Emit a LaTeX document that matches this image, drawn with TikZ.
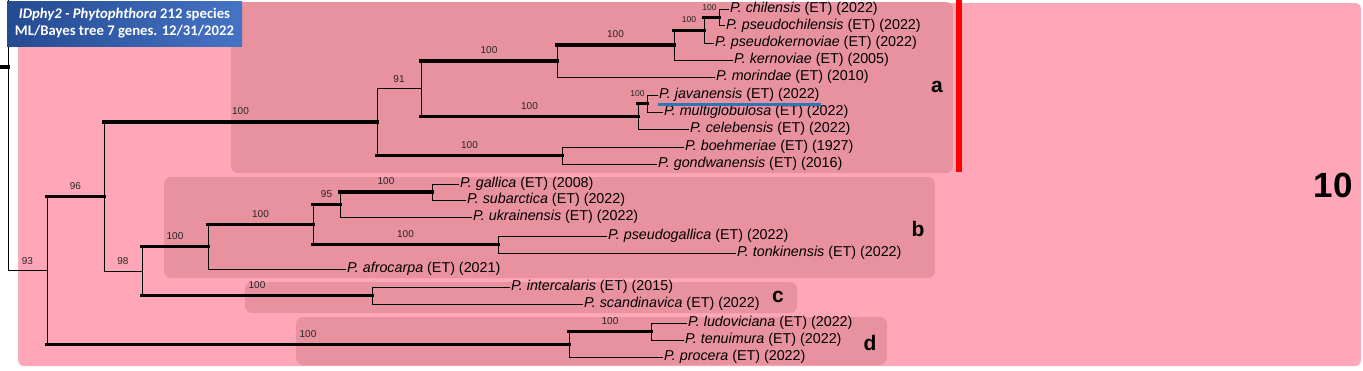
\documentclass[tikz,border=0pt]{standalone}
\usepackage{fontspec}
\setmainfont{Liberation Sans}
\newfontfamily\titulofont{Carlito}
\usepackage{xcolor}
\usepackage{tikz}
\definecolor{rosa}{RGB}{255,167,184}
\definecolor{rosaosc}{RGB}{232,145,159}
\definecolor{azulosc}{RGB}{36,74,145}
\definecolor{azulcl}{RGB}{70,115,196}
\definecolor{azulraya}{RGB}{46,117,182}
\newcommand{\especie}[2]{\textit{P. #1} (ET) (#2)}

\begin{document}
\begin{tikzpicture}[x=1pt, y=-1pt]
    \tikzstyle{every edge}=[draw, black, line width=0.9pt, line cap=rect]
    \tikzstyle{gruesa}=[line width=3.2pt]
    \tikzstyle{hoja}=[anchor=west, inner xsep=1pt, inner ysep=0pt, font=\fontsize{14.3}{16}\selectfont]
    \tikzstyle{boot}=[above, inner sep=0pt, yshift=5.5pt, text=black!85, font=\fontsize{10}{11}\selectfont]
    \tikzstyle{bootc}=[boot, font=\fontsize{8.5}{9}\selectfont]
    \tikzstyle{caja}=[fill=rosaosc, rounded corners=7pt]
    \tikzstyle{clado}=[font=\fontsize{21}{24}\selectfont\bfseries]
    \tikzstyle{titulo}=[left color=azulosc, right color=azulcl, text=white, align=center,
        minimum width=235pt, minimum height=45pt, inner sep=0pt,
        font=\titulofont\bfseries\fontsize{14.7}{17}\selectfont]

    \useasboundingbox (0,0) rectangle (1363,370);

    % Fondos
    \fill[rosa, rounded corners=6pt] (18,3) rectangle (1361,366);
    \fill[caja] (231,2) rectangle (953,173);
    \fill[caja] (164,177) rectangle (935,278);
    \fill[caja] (245,282) rectangle (797,313);
    \fill[caja] (296,317) rectangle (887,365);
    \fill[red] (956,0) rectangle (962,172);

    % Hojas del clado a
    \node[hoja] (chil)  at (729,9)    {\especie{chilensis}{2022}};
    \node[hoja] (pchil) at (725,25.5) {\especie{pseudochilensis}{2022}};
    \node[hoja] (pkern) at (714,43)   {\especie{pseudokernoviae}{2022}};
    \node[hoja] (kern)  at (733,60)   {\especie{kernoviae}{2005}};
    \node[hoja] (mor)   at (715,77)   {\especie{morindae}{2010}};
    \node[hoja] (java)  at (658,95)   {\especie{javanensis}{2022}};
    \node[hoja] (mglo)  at (663,112)  {\especie{multiglobulosa}{2022}};
    \node[hoja] (cele)  at (689,129)  {\especie{celebensis}{2022}};
    \node[hoja] (boeh)  at (684,147)  {\especie{boehmeriae}{1927}};
    \node[hoja] (gond)  at (657,164)  {\especie{gondwanensis}{2016}};

    % Hojas del clado b
    \node[hoja] (gall)  at (459,184)  {\especie{gallica}{2008}};
    \node[hoja] (suba)  at (466,200)  {\especie{subarctica}{2022}};
    \node[hoja] (ukra)  at (472,217)  {\especie{ukrainensis}{2022}};
    \node[hoja] (pgal)  at (607,236)  {\especie{pseudogallica}{2022}};
    \node[hoja] (tonk)  at (736,253)  {\especie{tonkinensis}{2022}};
    \node[hoja] (afro)  at (346,269)  {\especie{afrocarpa}{2021}};

    % Hojas de los clados c y d
    \node[hoja] (inte)  at (510,287)  {\especie{intercalaris}{2015}};
    \node[hoja] (scan)  at (583,304)  {\especie{scandinavica}{2022}};
    \node[hoja] (ludo)  at (687,323)  {\especie{ludoviciana}{2022}};
    \node[hoja] (tenu)  at (684,340)  {\especie{tenuimura}{2022}};
    \node[hoja] (proc)  at (663,357)  {\especie{procera}{2022}};

    % Nodos internos
    \coordinate (entrada) at (0,67);
    \coordinate (arriba)  at (8,0);
    \coordinate (r0)  at (8,67);
    \coordinate (n93) at (47,270.4);
    \coordinate (n96) at (104,196.5);
    \coordinate (n98) at (142,271);
    \coordinate (na)  at (377,122);
    \coordinate (na1) at (421,88.6);
    \coordinate (na2) at (557,61);
    \coordinate (na3) at (674,45);
    \coordinate (na4) at (704,30.1);
    \coordinate (na5) at (719,17.25);
    \coordinate (na6) at (638,116.25);
    \coordinate (na7) at (647,103.5);
    \coordinate (na8) at (562,155.5);
    \coordinate (nb)  at (208,246.75);
    \coordinate (nb1) at (313,224.5);
    \coordinate (nb2) at (340,204.5);
    \coordinate (nb3) at (432,192);
    \coordinate (nb4) at (498,244.5);
    \coordinate (nc)  at (372,295.5);
    \coordinate (nd)  at (569,344.25);
    \coordinate (nd1) at (651,331.5);

    \path
        % Raiz
        (entrada)      edge[gruesa]                    (r0)
        (r0 |- arriba) edge                            (r0 |- n93)
        (r0 |- n93)    edge node[boot] {93}            (n93)
        (n93 |- n96)   edge                            (n93 |- nd)
        (n93 |- n96)   edge[gruesa] node[boot] {96}    (n96)
        (n93 |- nd)    edge[gruesa] node[boot] {100}   (nd)
        (n96 |- na)    edge                            (n96 |- n98)
        (n96 |- na)    edge[gruesa] node[boot] {100}   (na)
        (n96 |- n98)   edge node[boot] {98}            (n98)
        (n98 |- nb)    edge                            (n98 |- nc)
        (n98 |- nb)    edge[gruesa] node[boot] {100}   (nb)
        (n98 |- nc)    edge[gruesa] node[boot] {100}   (nc)

        % Clado a
        (na |- na1)    edge                            (na |- na8)
        (na |- na1)    edge node[boot] {91}            (na1)
        (na |- na8)    edge[gruesa] node[boot] {100}   (na8)
        (na1 |- na2)   edge                            (na1 |- na6)
        (na1 |- na2)   edge[gruesa] node[boot] {100}   (na2)
        (na1 |- na6)   edge[gruesa] node[boot] {100}   (na6)
        (na2 |- na3)   edge                            (na2 |- mor)
        (na2 |- na3)   edge[gruesa] node[boot] {100}   (na3)
        (na2 |- mor)   edge                            (mor)
        (na3 |- na4)   edge                            (na3 |- kern)
        (na3 |- na4)   edge[gruesa] node[bootc] {100}  (na4)
        (na3 |- kern)  edge                            (kern)
        (na4 |- na5)   edge                            (na4 |- pkern)
        (na4 |- na5)   edge[gruesa] node[bootc, xshift=-2pt] {100} (na5)
        (na4 |- pkern) edge                            (pkern)
        (na5 |- chil)  edge                            (na5 |- pchil)
        (na5 |- chil)  edge                            (chil)
        (na5 |- pchil) edge                            (pchil)
        (na6 |- na7)   edge                            (na6 |- cele)
        (na6 |- na7)   edge[gruesa] node[bootc, xshift=-5pt] {100} (na7)
        (na6 |- cele)  edge                            (cele)
        (na7 |- java)  edge                            (na7 |- mglo)
        (na7 |- java)  edge                            (java)
        (na7 |- mglo)  edge                            (mglo)
        (na8 |- boeh)  edge                            (na8 |- gond)
        (na8 |- boeh)  edge                            (boeh)
        (na8 |- gond)  edge                            (gond)

        % Clado b
        (nb |- nb1)    edge                            (nb |- afro)
        (nb |- nb1)    edge[gruesa] node[boot] {100}   (nb1)
        (nb |- afro)   edge                            (afro)
        (nb1 |- nb2)   edge                            (nb1 |- nb4)
        (nb1 |- nb2)   edge[gruesa] node[boot] {95}    (nb2)
        (nb1 |- nb4)   edge[gruesa] node[boot] {100}   (nb4)
        (nb2 |- nb3)   edge                            (nb2 |- ukra)
        (nb2 |- nb3)   edge[gruesa] node[boot] {100}   (nb3)
        (nb2 |- ukra)  edge                            (ukra)
        (nb3 |- gall)  edge                            (nb3 |- suba)
        (nb3 |- gall)  edge                            (gall)
        (nb3 |- suba)  edge                            (suba)
        (nb4 |- pgal)  edge                            (nb4 |- tonk)
        (nb4 |- pgal)  edge                            (pgal)
        (nb4 |- tonk)  edge                            (tonk)

        % Clado c
        (nc |- inte)   edge                            (nc |- scan)
        (nc |- inte)   edge                            (inte)
        (nc |- scan)   edge                            (scan)

        % Clado d
        (nd |- nd1)    edge                            (nd |- proc)
        (nd |- nd1)    edge[gruesa] node[boot] {100}   (nd1)
        (nd |- proc)   edge                            (proc)
        (nd1 |- ludo)  edge                            (nd1 |- tenu)
        (nd1 |- ludo)  edge                            (ludo)
        (nd1 |- tenu)  edge                            (tenu)
    ;

    % Subrayado de javanensis
    \draw[azulraya, line width=3pt] ([yshift=-2.3pt]java.south west) -- ([yshift=-2.3pt]java.south east);

    % Letras de los clados
    \node[clado] (la) at (937,87)  {a};
    \node[clado] (lb) at (918,229) {b};
    \node[clado] (lc) at (778,297) {c};
    \node[clado] (ld) at (870,343) {d};
    \node[font=\fontsize{35}{40}\selectfont\bfseries] (diez) at (1333,185) {10};

    % Titulo
    \node[titulo] (titulo) at (124.5,23.5) {\textit{IDphy2 - Phytophthora} 212 species\\ML/Bayes tree 7 genes. 12/31/2022};
\end{tikzpicture}
\end{document}
